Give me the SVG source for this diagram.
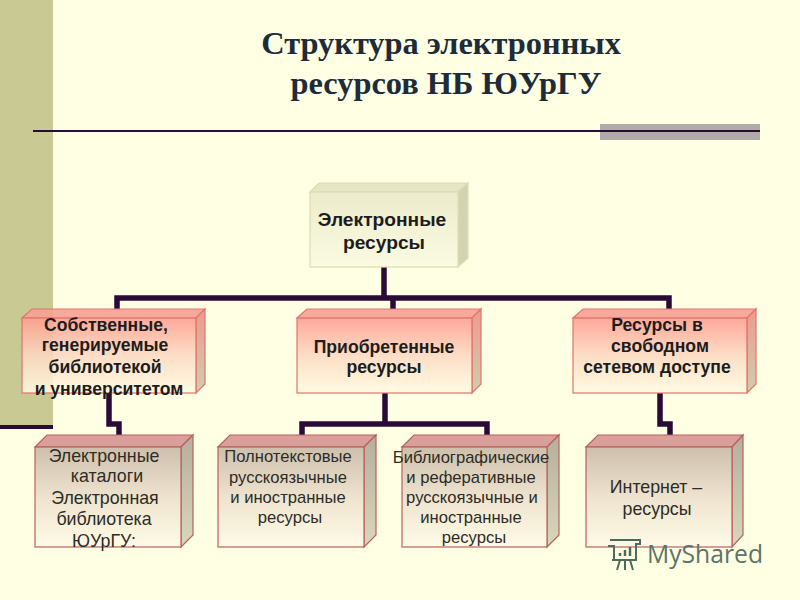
<svg xmlns="http://www.w3.org/2000/svg" width="800" height="600" viewBox="0 0 800 600">
<defs>
<linearGradient id="gRed" x1="0" y1="0" x2="0" y2="1"><stop offset="0" stop-color="#ff9c8e"/><stop offset=".5" stop-color="#fcd9c2"/><stop offset="1" stop-color="#fffbe2"/></linearGradient>
<linearGradient id="gRedSide" x1="0" y1="0" x2="0" y2="1"><stop offset="0" stop-color="#ef9a8c"/><stop offset="1" stop-color="#cfcdb0"/></linearGradient>
<linearGradient id="gPale" x1="0" y1="0" x2="0" y2="1"><stop offset="0" stop-color="#cdbfab"/><stop offset=".5" stop-color="#eee3cf"/><stop offset="1" stop-color="#fffbe6"/></linearGradient>
<linearGradient id="gPaleSide" x1="0" y1="0" x2="0" y2="1"><stop offset="0" stop-color="#b5ae9b"/><stop offset="1" stop-color="#d8d8bc"/></linearGradient>
<linearGradient id="gTop" x1="0" y1="0" x2="0" y2="1"><stop offset="0" stop-color="#ecebcb"/><stop offset="1" stop-color="#fbfbe2"/></linearGradient>
</defs>
<style>
.f{stroke:#e0766c;stroke-width:1.2;fill:url(#gRed);fill-opacity:.88}
.t{stroke:#e0766c;stroke-width:1.2;fill:#f6a193;fill-opacity:.9}
.s{stroke:#e0766c;stroke-width:1.2;fill:url(#gRedSide)}
.pf{stroke:#b9605e;stroke-width:1.2;fill:url(#gPale)}
.pt{stroke:#b9605e;stroke-width:1.2;fill:#d99f9b}
.ps{stroke:#b9605e;stroke-width:1.2;fill:url(#gPaleSide)}
.gf{stroke:#dcdcb4;stroke-width:1.2;fill:url(#gTop)}
.gt{stroke:#dcdcb4;stroke-width:1.2;fill:#e6e5c5}
.gs{stroke:#dcdcb4;stroke-width:1.2;fill:#d3d3b2}
.c{fill:none;stroke:#2a0a36;stroke-width:5.5}
text{font-family:"Liberation Sans",Arial,sans-serif;text-anchor:middle;fill:#1c1c1c}
.b{font-weight:bold;font-size:17.6px}
.r{font-weight:bold;font-size:19.2px}
.n{font-size:16.6px;fill:#2c2c26}
.l{font-size:17.8px;fill:#2c2c26}
.title{font-family:"Liberation Serif","Times New Roman",serif;font-weight:bold;font-size:32.4px;fill:#1d2b3a}
</style>
<rect width="800" height="600" fill="#ffffe3"/>
<rect x="0" y="0" width="53" height="425" fill="#c9c993"/>
<rect x="0" y="425" width="53" height="4" fill="#2a0a36"/>
<rect x="600" y="124" width="160" height="16" fill="#b0aaa6"/>
<rect x="33" y="130" width="727" height="2" fill="#2a0a36"/>
<text class="title" x="441" y="54">Структура электронных</text>
<text class="title" x="446" y="94">ресурсов НБ ЮУрГУ</text>
<g id="connectors">
<path class="c" d="M384 267V298"/>
<path class="c" d="M117 309V298H669V309"/>
<path class="c" d="M393 298V309"/>
<path class="c" d="M109 393V424H119V435"/>
<path class="c" d="M385 393V424"/>
<path class="c" d="M302 435V424H487V435"/>
<path class="c" d="M660 393V424H670V435"/>
</g>
<g id="node-root">
<path class="gt" d="M310 192L319 183H468L458 192Z"/><path class="gs" d="M458 192L468 183V258L458 267Z"/><rect class="gf" x="310" y="192" width="148" height="75"/>
<text class="r" x="382" y="226">Электронные</text><text class="r" x="384" y="249">ресурсы</text>
</g>
<g id="node-own">
<path class="t" d="M22 318L32 309H205L196 318Z"/><path class="s" d="M196 318L205 309V384L196 393Z"/><rect class="f" x="22" y="318" width="174" height="75"/>
<text class="b" x="106" y="331">Собственные,</text><text class="b" x="105" y="351">генерируемые</text><text class="b" x="105" y="373">библиотекой</text><text class="b" x="109" y="395">и университетом</text>
</g>
<g id="node-acquired">
<path class="t" d="M297 318L307 309H481L472 318Z"/><path class="s" d="M472 318L481 309V384L472 393Z"/><rect class="f" x="297" y="318" width="175" height="75"/>
<text class="b" x="384" y="353">Приобретенные</text><text class="b" x="384" y="373">ресурсы</text>
</g>
<g id="node-free">
<path class="t" d="M573 318L583 309H756L747 318Z"/><path class="s" d="M747 318L756 309V384L747 393Z"/><rect class="f" x="573" y="318" width="174" height="75"/>
<text class="b" x="657" y="331">Ресурсы в</text><text class="b" x="660" y="352">свободном</text><text class="b" x="657" y="373">сетевом доступе</text>
</g>
<g id="node-catalogs">
<path class="pt" d="M35 447L47 435H193L181 447Z"/><path class="ps" d="M181 447L193 435V535L181 547Z"/><rect class="pf" x="35" y="447" width="146" height="100"/>
<text class="l" x="104" y="462">Электронные</text><text class="l" x="107" y="482">каталоги</text><text class="l" x="105" y="504">Электронная</text><text class="l" x="104" y="525">библиотека</text><text class="l" x="104" y="547">ЮУрГУ:</text>
</g>
<g id="node-fulltext">
<path class="pt" d="M218 447L230 435H376L364 447Z"/><path class="ps" d="M364 447L376 435V535L364 547Z"/><rect class="pf" x="218" y="447" width="146" height="100"/>
<text class="n" x="288" y="462">Полнотекстовые</text><text class="n" x="288" y="483">русскоязычные</text><text class="n" x="288" y="503">и иностранные</text><text class="n" x="290" y="523">ресурсы</text>
</g>
<g id="node-biblio">
<path class="pt" d="M402 447L414 435H559L547 447Z"/><path class="ps" d="M547 447L559 435V535L547 547Z"/><rect class="pf" x="402" y="447" width="145" height="100"/>
<text class="n" x="471" y="463">Библиографические</text><text class="n" x="471" y="483">и реферативные</text><text class="n" x="472" y="503">русскоязычные и</text><text class="n" x="471" y="523">иностранные</text><text class="n" x="474" y="543">ресурсы</text>
</g>
<g id="node-internet">
<path class="pt" d="M586 447L598 435H743L732 447Z"/><path class="ps" d="M732 447L743 435V535L732 547Z"/><rect class="pf" x="586" y="447" width="146" height="100"/>
<text class="l" x="656" y="493">Интернет –</text><text class="l" x="657" y="515">ресурсы</text>
</g>
<g id="watermark" fill="none" stroke="#4e6a5c" stroke-width="2">
<path d="M610 540H640V544H636V560H614V546H608M636 560H612M620 560L617 570M625 560V570M630 560L633 570"/>
<path d="M620 556V553M625 556V550M630 556V547" stroke-width="2.5"/>
<text x="705" y="563" stroke="none" style="font-family:'Open Sans','Liberation Sans',sans-serif;font-size:26px;fill:#5c7468" textLength="116" lengthAdjust="spacingAndGlyphs">MyShared</text>
</g>
</svg>
